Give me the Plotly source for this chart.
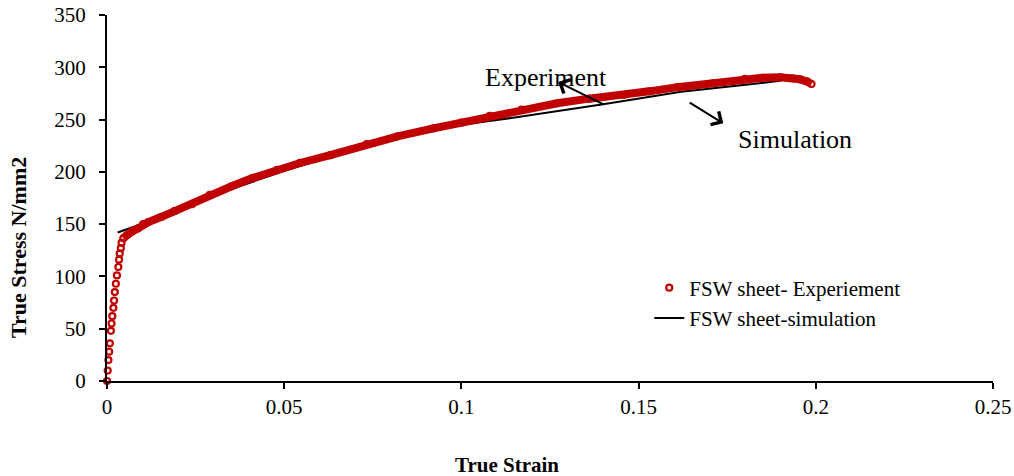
import plotly.graph_objects as go

# Experiment (true strain, true stress N/mm2)
exp_strain = [0, 0.0002, 0.0004, 0.0006, 0.0008, 0.0011, 0.0013, 0.0015, 0.0018, 0.002,
              0.0022, 0.0025, 0.0028, 0.0032, 0.0034, 0.0036, 0.0039, 0.0041, 0.0046, 0.0056,
              0.007, 0.0088, 0.0102, 0.0117, 0.0154, 0.019, 0.024, 0.029, 0.035, 0.041,
              0.048, 0.0545, 0.063, 0.0733, 0.082, 0.0921, 0.1, 0.108, 0.117, 0.127,
              0.136, 0.1457, 0.153, 0.161, 0.171, 0.18, 0.185, 0.19, 0.1935, 0.1955,
              0.1975, 0.1988]
exp_stress = [0, 10, 20, 28, 36, 48, 55, 62, 70, 77,
              85, 93, 101, 109, 116, 122, 127, 132, 136.5, 139.6,
              142.8, 146, 150, 152, 157, 162.5, 169, 178, 186, 194,
              201.8, 208.5, 216, 226.6, 234, 241.6, 247, 253.5, 259.5, 265.6,
              270, 273.5, 277, 281, 284.7, 289, 290, 290.4, 289.5, 288.5,
              286.5, 284]

# Simulation
sim_strain = [0.003, 0.01, 0.02, 0.03, 0.05, 0.075, 0.1, 0.11, 0.125, 0.14, 0.162, 0.175, 0.19]
sim_stress = [142, 150.5, 162.5, 177.5, 201, 227.5, 245, 249.5, 257, 264.6, 276.7, 281.5, 287]

x_ticks = [0, 0.05, 0.1, 0.15, 0.2, 0.25]
x_tick_labels = ["0", "0.05", "0.1", "0.15", "0.2", "0.25"]
y_ticks = [0, 50, 100, 150, 200, 250, 300, 350]

RED = "#C00000"
FONT = "Liberation Serif"

# plastic part of experiment drawn as a dense band
knee = exp_strain.index(0.0046)

fig = go.Figure()
fig.add_trace(go.Scatter(
    x=sim_strain, y=sim_stress, mode="lines", name="FSW sheet-simulation",
    line=dict(color="black", width=2), legendrank=2))
fig.add_trace(go.Scatter(
    x=exp_strain[knee:], y=exp_stress[knee:], mode="lines", showlegend=False,
    line=dict(color=RED, width=8), hoverinfo="skip"))
fig.add_trace(go.Scatter(
    x=exp_strain, y=exp_stress, mode="markers", name="FSW sheet- Experiement",
    marker=dict(symbol="circle-open", size=6, color=RED, line=dict(width=2.2, color=RED)),
    cliponaxis=False, legendrank=1))

fig.update_layout(
    width=1014, height=476,
    margin=dict(l=107, r=21, t=15, b=95, autoexpand=False),
    paper_bgcolor="white", plot_bgcolor="white",
    font=dict(family=FONT, size=21, color="black"),
    showlegend=True,
    legend=dict(x=0.612, y=0.31, xanchor="left", yanchor="top",
                bgcolor="rgba(0,0,0,0)", font=dict(family=FONT, size=21, color="black")),
    xaxis=dict(range=[0, 0.25], tickvals=x_ticks, ticktext=x_tick_labels, automargin=False,
               showgrid=False, zeroline=False, showline=True, linecolor="black", linewidth=2,
               ticks="outside", ticklen=6, tickwidth=2, tickcolor="black",
               tickfont=dict(family=FONT, size=21)),
    yaxis=dict(range=[0, 350], tickvals=y_ticks, automargin=False,
               showgrid=False, zeroline=False, showline=True, linecolor="black", linewidth=2,
               ticks="outside", ticklen=6, tickwidth=2, tickcolor="black",
               tickfont=dict(family=FONT, size=21), ticklabelstandoff=9),
)

annos = [
    dict(text="<b>True Strain</b>", xref="paper", yref="paper", x=0.4515, y=-0.2295,
         showarrow=False, font=dict(family=FONT, size=21, color="black"),
         xanchor="center", yanchor="middle"),
    dict(text="<b>True Stress N/mm2</b>", xref="paper", yref="paper", x=-0.1005, y=0.366,
         showarrow=False, textangle=-90, font=dict(family=FONT, size=22, color="black"),
         xanchor="center", yanchor="middle"),
    dict(text="Experiment", x=0.1239, y=290.7, xref="x", yref="y", showarrow=False,
         font=dict(family=FONT, size=26, color="black")),
    dict(text="Simulation", x=0.1941, y=231.4, xref="x", yref="y", showarrow=False,
         font=dict(family=FONT, size=26, color="black")),
    dict(text="", x=0.1273, y=285.9, ax=0.1405, ay=263.9, xref="x", yref="y",
         axref="x", ayref="y", showarrow=True, arrowhead=4, arrowsize=1.5,
         arrowwidth=2, arrowcolor="black", standoff=0),
    dict(text="", x=0.1739, y=246.4, ax=0.164, ay=267.1, xref="x", yref="y",
         axref="x", ayref="y", showarrow=True, arrowhead=4, arrowsize=1.5,
         arrowwidth=2, arrowcolor="black", standoff=0),
]
fig.update_layout(annotations=annos)

fig.write_html("out.html")
